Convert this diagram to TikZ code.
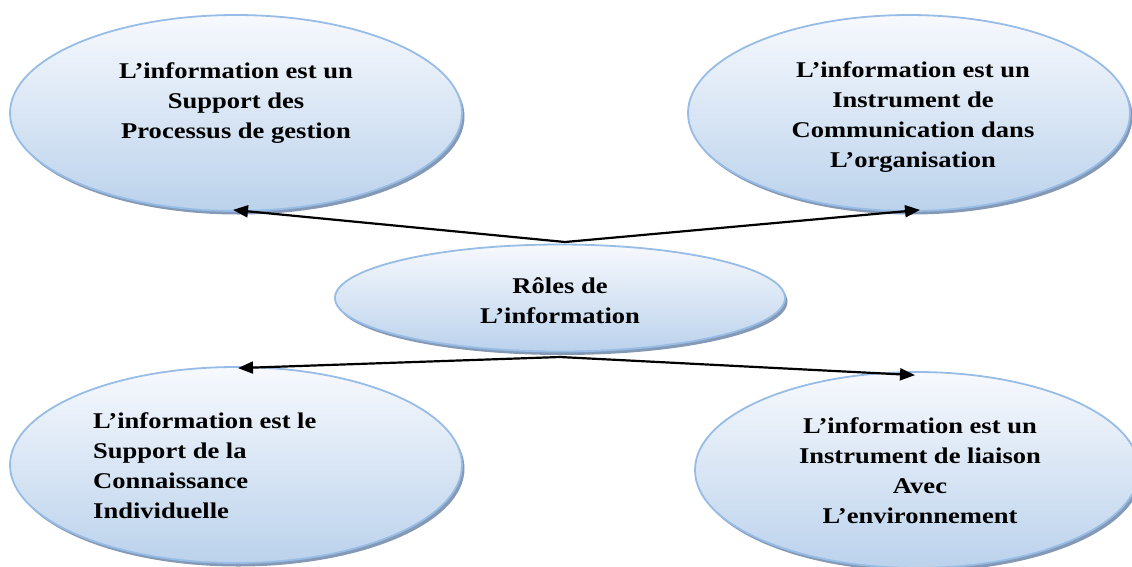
\documentclass[tikz,border=0pt]{standalone}
\usepackage{fontspec}
\setmainfont{Liberation Serif}[FakeStretch=1.18]
\usetikzlibrary{shapes.geometric,shadows,arrows.meta,calc}

\definecolor{bubbleTop}{HTML}{F7F9FD}
\definecolor{bubbleBottom}{HTML}{BBD2EC}
\definecolor{bubbleLine}{HTML}{97BCE5}
\definecolor{bubbleShade}{HTML}{8499B5}

\tikzset{
  bubble/.style={
    ellipse, inner sep=0pt, draw=bubbleLine, line width=1.8pt,
    top color=bubbleTop, bottom color=bubbleBottom,
    drop shadow={shadow xshift=2.5pt, shadow yshift=-3.5pt, fill=bubbleShade, opacity=1}
  },
  caption/.style={
    inner sep=0pt, anchor=north,
    font=\bfseries\fontsize{22.5}{30}\selectfont
  },
  link/.style={line width=2.2pt, -{Triangle[length=15pt,width=12pt]}}
}

\begin{document}
\begin{tikzpicture}[x=1pt,y=-1pt]
  \useasboundingbox (0,0) rectangle (1132,566);

  % role bubbles
  \node[bubble, minimum width=452pt, minimum height=196pt] (gest) at (236,113) {};
  \node[bubble, minimum width=442pt, minimum height=196pt] (comm) at (909,113) {};
  \node[bubble, minimum width=452pt, minimum height=196pt] (conn) at (236,465) {};
  \node[bubble, minimum width=444pt, minimum height=196pt] (env)  at (917,470) {};
  % hub
  \node[bubble, minimum width=450pt, minimum height=107pt] (hub)  at (560,298) {};

  % texts (first baseline = north + 17pt)
  \node[caption, align=center] (tgest) at (236,61)
    {\rule{0pt}{17pt}L’information est un\\Support des\\Processus de gestion};
  \node[caption, align=center] (tcomm) at (913,60)
    {\rule{0pt}{17pt}L’information est un\\Instrument de\\Communication dans\\L’organisation};
  \node[caption, align=left, anchor=north west] (tconn) at (93,411)
    {\rule{0pt}{17pt}L’information est le\\Support de la\\Connaissance\\Individuelle};
  \node[caption, align=center] (tenv) at (920,416)
    {\rule{0pt}{17pt}L’information est un\\Instrument de liaison\\Avec\\L’environnement};
  \node[caption, align=center] (thub) at (560,276)
    {\rule{0pt}{17pt}Rôles de\\L’information};

  % connectors from the hub
  \coordinate (up)   at (565,242);
  \coordinate (down) at (560,357);
  \draw[link] (up) -- ($(gest.south)+(-3,-2)$);
  \draw[link] (up) -- ($(comm.south)+(11,-2)$);
  \draw[link] (down) -- ($(conn.north)+(2,2)$);
  \draw[link] (down) -- ($(env.north)+(-2,4)$);
\end{tikzpicture}
\end{document}
